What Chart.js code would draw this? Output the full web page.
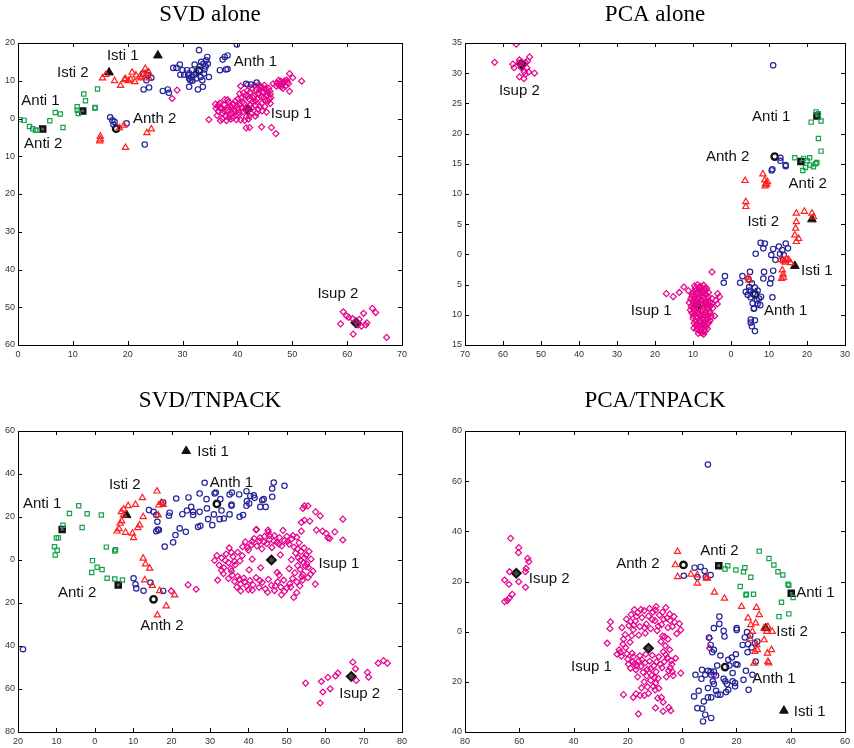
<!DOCTYPE html>
<html>
<head>
<meta charset="utf-8">
<script src="https://cdn.jsdelivr.net/npm/chart.js@4/dist/chart.umd.min.js"></script>
<style>
  body { margin: 0; background: #fff; }
  canvas { position: absolute; }
</style>
</head>
<body>
<canvas id="c1" width="427" height="374" style="left:0;top:0"></canvas>
<canvas id="c2" width="427" height="374" style="left:427px;top:0"></canvas>
<canvas id="c3" width="427" height="374" style="left:0;top:374px"></canvas>
<canvas id="c4" width="427" height="374" style="left:427px;top:374px"></canvas>
<script>
// ---- SVD alone ----
const svdAnti = [[0.4,-0.3],[1.1,-0.5],[2.1,-2.1],[2.7,-2.7],[3.2,-3.1],[3.5,-3.1],[5.8,-0.6],[6.8,1.6],[7.7,1.2],[8.2,-2.4],[10.8,3.1],[10.8,2.2],[11.0,1.3],[12.0,6.5],[12.3,4.7],[14.0,2.8],[14.1,2.9],[14.5,7.8]];
const svdIsti = [[15.4,10.7],[16.0,11.6],[17.6,10.0],[18.7,8.7],[19.4,10.3],[19.6,10.5],[20.1,10.0],[20.5,10.4],[20.8,12.2],[21.3,9.7],[21.5,11.5],[22.2,11.0],[22.5,10.7],[22.8,11.6],[23.2,13.2],[23.4,11.9],[23.8,12.3],[23.9,10.7],[15.0,-4.7],[15.0,-5.5],[14.9,-6.0],[18.5,-2.5],[19.3,-1.8],[19.6,-7.7],[23.5,-3.8],[24.3,-2.8]];
const svdAnth = [[22.8,11.9],[23.4,10.1],[23.7,11.5],[24.3,10.8],[22.9,7.7],[23.9,8.2],[26.4,7.3],[27.3,7.7],[27.5,6.8],[28.3,13.4],[28.9,13.4],[29.5,14.3],[29.6,11.6],[30.0,12.8],[30.3,11.6],[30.8,12.8],[31.2,10.6],[31.4,10.1],[31.6,11.0],[31.8,10.0],[32.1,11.5],[32.2,14.3],[32.5,12.1],[33.0,18.1],[33.3,11.0],[33.4,15.0],[33.6,10.1],[33.7,8.4],[33.9,11.9],[34.0,13.0],[34.2,13.8],[34.3,15.4],[34.5,16.3],[34.6,14.5],[34.8,11.0],[32.8,7.7],[31.2,8.4],[36.8,12.8],[37.3,15.6],[37.7,16.3],[38.2,16.7],[37.9,13.0],[38.2,13.1],[39.9,19.6],[41.6,9.2],[42.5,9.0],[43.5,9.5],[31.7,12.8],[31.2,12.0],[33.2,13.8],[33.8,14.5],[31.0,11.5],[32.5,10.6],[16.8,0.3],[17.2,-0.5],[17.6,-0.9],[17.4,-1.6],[19.8,-1.3],[23.1,-6.9]];
const svdIsup = [[36.0,3.8],[36.4,3.2],[36.8,4.1],[37.0,2.5],[37.3,1.4],[37.6,3.6],[37.9,0.6],[38.1,2.2],[38.4,4.4],[38.6,1.0],[38.9,2.9],[39.1,0.2],[39.3,3.8],[39.5,1.7],[39.8,-0.3],[40.0,2.6],[36.5,1.9],[37.2,-0.1],[38.0,-0.6],[38.7,3.4],[39.6,4.6],[40.2,0.9],[40.5,3.6],[36.1,2.7],[37.7,5.0],
  [40.7,5.4],[41.0,1.8],[41.2,4.0],[41.5,6.2],[41.6,0.5],[41.9,3.0],[42.1,5.1],[42.3,7.0],[42.5,1.4],[42.8,4.4],[43.0,6.0],[40.4,6.6],[41.3,-0.5],[42.6,2.7],[43.2,3.5],[40.8,2.9],[41.8,7.4],[42.0,-0.2],
  [43.4,7.6],[43.6,5.2],[43.8,2.4],[44.0,6.6],[44.2,8.4],[44.4,4.0],[44.6,7.0],[44.8,5.6],[45.0,3.2],[45.2,7.9],[45.4,6.1],[45.6,4.6],[45.9,7.2],[46.1,5.5],[43.9,9.0],[44.9,8.8],[45.7,8.0],[43.1,8.8],[44.5,2.0],[45.3,1.7],[46.0,4.0],
  [36.3,0.8],[36.9,-0.6],[37.5,2.0],[38.2,3.0],[38.8,-0.2],[39.4,2.4],[39.9,3.4],[40.3,1.6],[40.9,4.4],[41.4,2.4],[41.9,5.8],[42.4,3.6],[42.9,5.4],[43.3,4.6],[43.7,6.6],[44.1,3.2],[44.3,5.8],[44.7,8.0],[45.1,4.8],[45.5,7.0],[45.8,5.2],[40.1,5.2],[39.0,1.4],[37.0,3.0],[38.4,0.2],[41.1,6.8],[42.7,7.8],[44.0,7.6],[46.0,6.4],[43.5,1.4],[39.7,0.8],[40.6,-0.4],[36.6,3.6],[38.2,5.0],[42.2,0.6],
  [47.2,9.4],[47.6,8.8],[47.9,9.9],[48.2,9.0],[48.5,9.6],[48.8,8.6],[49.0,10.2],[49.3,9.2],[47.5,10.1],[48.0,8.4],[47.8,9.2],[48.6,10.0],[48.3,8.0],[47.1,8.6],[49.1,9.7],
  [49.5,11.9],[50.1,10.8],[51.7,9.9],[49.5,7.2],[46.5,9.2],[34.8,-0.3],[41.6,-2.5],[42.2,-2.4],[44.4,-2.2],[46.2,-2.4],[47.0,-4.0],[43.3,0.6],[28.1,5.3],[29.0,7.5],[40.6,8.6],[41.8,8.9],
  [59.3,-51.2],[59.9,-52.3],[58.8,-54.4],[60.3,-52.7],[61.0,-53.0],[61.1,-57.1],[62.0,-54.7],[62.2,-53.2],[63.0,-51.6],[63.4,-54.7],[63.6,-54.1],[64.6,-50.3],[65.2,-51.4],[67.2,-58.0],[62.6,-55.0]];
const svdAntiC = [[11.8,2.0],[4.5,-2.8]];
const svdIstiC = [[16.6,12.2],[25.5,16.7]];
const svdAnthC = [[33.0,12.7],[17.9,-2.7]];
const svdIsupC = [[41.8,2.4],[61.6,-54.1]];
const svdLabels = [['Isti 1',19.1,16.7],['Isti 2',10.0,12.2],['Anti 1',4.1,4.7],['Anti 2',4.6,-6.8],['Anth 2',24.9,-0.2],['Anth 1',43.3,15.0],['Isup 1',49.8,1.3],['Isup 2',58.3,-46.5]];

// ---- PCA alone ----
const pcaAnti = [[22.4,23.6],[23.0,23.3],[21.1,21.9],[23.7,22.1],[23.0,19.2],[23.7,17.1],[16.8,16.0],[19.1,15.9],[20.7,16.0],[20.0,15.5],[20.8,14.8],[21.7,14.5],[22.6,15.2],[22.3,15.0],[18.9,13.9],[19.6,14.4]];
const pcaIsti = [[3.7,12.2],[3.9,8.7],[3.9,7.9],[8.4,13.3],[8.9,12.3],[9.1,11.7],[9.4,11.6],[9.0,11.3],[9.6,12.0],[17.2,6.8],[19.3,7.1],[21.3,6.8],[21.7,6.2],[17.2,5.4],[17.0,4.3],[16.8,3.2],[17.8,2.6],[17.2,2.1],[13.0,-0.9],[13.9,-1.1],[14.6,-0.7],[15.2,-0.9],[15.7,-1.4],[14.3,-1.3],[13.5,-2.6],[13.7,-3.3],[13.3,-4.0],[13.8,-3.8],[4.5,-3.8],[4.8,-4.3]];
const pcaAnth = [[11.1,31.3],[10.9,14.1],[10.7,13.9],[13.0,16.0],[13.0,15.5],[14.4,14.8],[14.4,14.6],[7.8,1.9],[8.9,1.8],[8.5,1.0],[6.5,0.1],[11.1,0.9],[12.6,1.3],[13.5,0.7],[14.4,1.8],[15.0,1.0],[13.9,-0.1],[12.9,0.1],[10.6,-0.1],[11.7,-0.9],[13.7,-0.9],[-1.6,-3.6],[-1.9,-4.7],[3.0,-3.6],[2.4,-4.7],[5.0,-2.9],[4.6,-4.1],[5.5,-4.8],[6.3,-5.5],[7.0,-6.0],[8.5,-4.0],[8.7,-2.9],[10.6,-4.0],[10.3,-4.8],[11.1,-2.7],[10.9,-7.1],[4.4,-6.7],[5.2,-7.1],[5.7,-8.1],[7.0,-8.2],[7.7,-8.4],[6.1,-8.9],[6.3,-10.9],[5.2,-10.8],[5.2,-11.3],[5.5,-11.9],[6.3,-12.7],[3.9,-6.2],[4.8,-5.4],[7.4,-7.3],[5.8,-6.4],[6.8,-7.6],[4.9,-6.0],[7.9,-7.0],[6.0,-9.0]];
const pcaIsup = [[-9.6,-5.2],[-8.8,-5.0],[-8.0,-5.3],[-7.2,-5.1],[-6.4,-5.6],[-9.2,-6.0],[-8.4,-5.9],[-7.6,-6.2],[-6.8,-6.0],[-5.9,-6.3],[-10.2,-6.6],[-9.7,-6.9],
  [-10.6,-7.4],[-10.0,-7.8],[-9.5,-7.3],[-9.0,-7.7],[-8.4,-7.1],[-7.9,-7.6],[-7.3,-7.2],[-6.7,-7.8],[-6.1,-7.4],[-5.5,-7.9],[-5.0,-7.3],[-10.5,-8.6],[-9.8,-9.0],[-9.3,-8.4],[-8.3,-8.9],[-7.7,-8.3],[-7.1,-8.8],[-6.5,-8.4],[-5.9,-9.0],[-5.3,-8.5],[-4.8,-8.9],[-10.3,-9.7],[-9.6,-9.9],[-9.0,-9.4],[-8.5,-10.0],[-7.9,-9.5],[-7.3,-9.9],[-6.7,-9.6],[-6.1,-10.1],[-5.5,-9.7],
  [-10.0,-10.6],[-9.4,-11.0],[-8.8,-10.5],[-8.2,-11.1],[-7.6,-10.7],[-7.0,-11.2],[-6.4,-10.8],[-5.8,-11.3],[-9.2,-11.8],[-8.6,-12.1],[-8.0,-11.7],[-7.4,-12.2],[-6.8,-11.9],[-6.2,-12.3],[-8.3,-12.7],[-7.6,-13.0],[-6.9,-12.8],[-9.8,-12.2],
  [-9.9,-6.2],[-9.0,-6.4],[-8.2,-6.6],[-7.4,-6.8],[-6.6,-6.6],[-6.0,-7.0],[-10.3,-7.0],[-8.7,-7.5],[-7.0,-7.4],[-5.7,-8.4],[-10.0,-8.3],[-9.1,-8.1],[-8.0,-8.2],[-6.9,-8.1],[-6.2,-8.8],[-5.0,-8.1],[-10.7,-9.2],[-9.4,-9.3],[-8.7,-9.6],[-7.5,-9.2],[-6.9,-10.0],[-5.8,-9.4],[-5.2,-10.3],[-9.9,-10.2],[-9.1,-10.3],[-8.0,-10.3],[-7.1,-10.4],[-6.0,-10.6],[-9.7,-11.4],[-8.9,-11.4],[-7.9,-11.2],[-7.2,-11.6],[-6.4,-11.5],[-5.5,-10.9],[-9.0,-12.4],[-8.0,-12.4],[-7.1,-12.5],[-6.5,-12.0],[-7.9,-12.9],[-8.6,-13.1],[-7.2,-13.2],[-9.4,-5.6],[-8.4,-5.4],[-7.8,-5.7],[-6.9,-5.6],
  [-17.0,-6.5],[-15.2,-7.0],[-13.6,-6.3],[-12.4,-5.4],[-11.2,-6.0],[-5.0,-2.9],[-3.5,-6.5],[-3.0,-7.0],[-4.0,-7.6],[-3.6,-8.2],[-11.0,-8.0],[-4.3,-10.2],
  [-62.2,31.8],[-56.5,34.8],[-57.4,31.5],[-57.1,30.9],[-55.8,31.7],[-55.7,32.2],[-55.2,30.9],[-54.1,31.8],[-53.5,32.0],[-53.0,32.7],[-53.7,30.9],[-53.2,30.2],[-54.1,29.8],[-55.7,29.4],[-54.5,29.1],[-51.7,30.0],[-54.4,30.2]];
const pcaAntiC = [[22.6,22.9],[18.4,15.4]];
const pcaIstiC = [[21.3,5.8],[16.8,-1.9]];
const pcaAnthC = [[6.3,-6.6],[11.5,16.2]];
const pcaIsupC = [[-9.0,-8.5],[-55.1,31.5]];
const pcaLabels = [['Isup 2',-55.7,27.1],['Anti 1',10.6,22.7],['Anth 2',-0.9,16.2],['Anti 2',20.2,11.7],['Isti 2',8.5,5.4],['Isti 1',22.6,-2.7],['Isup 1',-21.0,-9.3],['Anth 1',14.4,-9.3]];

// ---- SVD/TNPACK ----
const svdTnAnti = [[-10.5,6.2],[-9.8,4.5],[-10.3,2.3],[-10.0,10.3],[-9.5,10.3],[-8.3,16.2],[-6.6,21.6],[-4.2,25.2],[-3.3,15.1],[-2.0,21.5],[1.7,20.9],[-0.6,-0.3],[-0.8,-5.8],[0.6,-3.4],[1.9,-4.4],[3.2,-8.5],[5.2,4.2],[5.4,4.8],[5.2,-8.8],[7.2,-9.3],[3.0,6.0]];
const svdTnIsti = [[5.8,13.4],[6.3,14.5],[7.0,18.1],[7.5,20.9],[6.9,22.4],[7.5,23.6],[8.7,25.2],[10.6,25.8],[12.4,28.9],[12.6,20.1],[11.7,16.2],[11.2,15.0],[9.8,12.4],[10.1,10.3],[8.0,12.8],[16.2,32.0],[16.7,25.5],[17.3,26.7],[17.8,25.8],[16.5,20.9],[12.6,0.8],[13.2,-1.9],[14.3,-3.9],[13.0,-9.3],[15.0,-11.9],[16.9,-14.3],[20.8,-16.3],[18.6,-21.4],[16.3,-25.6],[6.6,17.0]];
const svdTnAnth = [[14.1,23.2],[15.3,22.4],[16.0,20.9],[16.3,17.8],[16.7,13.9],[16.0,13.4],[16.4,14.2],[18.2,6.2],[20.4,8.2],[21.0,11.6],[19.3,20.6],[22.1,14.7],[22.8,21.3],[21.2,28.6],[24.4,29.1],[25.1,24.7],[25.6,20.9],[25.6,22.4],[23.7,13.1],[27.3,22.4],[26.9,15.4],[27.5,15.9],[28.6,35.9],[27.3,30.9],[29.1,28.3],[29.2,24.0],[29.5,19.0],[30.6,16.2],[31.0,21.2],[31.2,30.9],[31.5,31.4],[32.7,28.3],[32.5,19.0],[33.6,19.3],[35.1,21.2],[35.6,25.8],[35.6,25.2],[35.1,30.5],[35.7,31.4],[37.6,30.5],[37.7,20.1],[38.6,20.9],[39.5,32.0],[39.5,25.2],[39.6,27.4],[40.2,26.3],[40.5,29.8],[41.4,30.1],[41.6,28.9],[43.1,24.7],[43.6,27.8],[44.0,28.3],[44.5,24.7],[46.2,29.4],[46.2,33.2],[46.6,36.0],[49.4,34.5],[17.8,26.7],[19.5,22.0],[24.0,23.0],[33.0,23.0],
  [10.1,-8.5],[10.6,-11.3],[10.8,-13.2],[12.7,-14.3],[14.5,-10.5],[17.8,-14.4],[-18.7,-41.5]];
const svdTnIsup = [[38.5,6.2],[39.2,8.4],[40.0,4.6],[40.8,7.0],[41.5,10.0],[42.2,6.5],[42.9,8.8],[43.5,5.2],[44.2,11.0],[44.8,7.6],[45.5,9.6],[46.1,5.8],[46.8,11.4],[47.4,8.2],[48.1,10.4],[48.7,6.6],[49.4,9.0],[50.0,11.0],[50.6,7.4],[51.3,9.8],[51.9,6.0],[52.6,10.6],[53.2,8.0],[53.8,13.4],[54.5,5.6],[42.0,14.0],[45.2,13.0],[49.0,13.8],
  [52.3,3.2],[53.0,1.0],[53.7,3.9],[54.3,-1.2],[55.0,2.2],[55.6,-3.4],[56.3,0.4],[56.8,-5.2],[52.8,-2.6],[53.5,-4.4],[54.2,-6.8],[54.9,-3.0],[55.5,-8.2],[52.1,-6.0],[51.5,-8.6],[52.6,-10.2],[53.4,-12.0],[54.1,-9.4],[50.6,-4.0],[51.2,0.2],
  [33.5,-6.4],[34.8,-8.6],[35.6,-5.2],[36.4,-10.0],[37.2,-7.6],[38.0,-11.2],[38.8,-8.4],[39.6,-12.2],[40.4,-9.6],[41.2,-11.6],[42.0,-8.2],[42.8,-12.8],[43.6,-10.4],[44.4,-13.4],[45.2,-9.0],[46.0,-11.8],[46.8,-14.2],[47.6,-10.2],[48.4,-12.6],[49.2,-9.4],[50.0,-13.0],[50.8,-11.0],[37.0,-12.6],[41.0,-14.0],[51.8,-17.4],[52.6,-15.2],
  [31.2,-0.2],[31.8,2.0],[32.4,-2.4],[33.0,1.0],[33.6,-3.6],[34.2,2.8],[34.8,-1.2],[35.4,-4.0],[36.0,1.6],[36.6,-2.2],[37.2,3.6],[37.8,-0.4],[32.0,-9.4],[35.0,5.6],[38.4,2.0],
  [41.0,0.4],[43.2,-3.6],[47.5,-5.8],[48.3,2.4],[40.2,-4.6],
  [39.8,5.8],[41.0,8.6],[43.0,10.4],[44.0,8.4],[46.6,8.8],[48.0,7.4],[50.2,8.6],[51.6,11.4],[52.8,5.2],[53.6,0.0],[55.2,-1.8],[53.9,-7.8],[51.0,-12.6],[49.4,-14.6],[47.0,-12.0],[45.0,-15.0],[43.0,-9.6],[39.0,-10.2],[37.6,-9.0],[35.8,-7.0],[34.0,-0.2],[33.0,-4.8],[35.6,3.4],[36.4,-0.6],[55.8,4.0],[56.2,-6.6],[40.0,-13.8],[38.0,-14.4],[48.6,-16.2],[54.6,1.0],
  [54.2,24.0],[54.6,25.2],[55.5,25.2],[53.8,17.5],[54.6,18.5],[56.0,18.1],[57.5,22.4],[58.7,20.5],[57.7,13.9],[59.3,13.4],[60.3,12.3],[60.7,10.3],[62.5,13.1],[61.2,10.0],[64.6,19.0],[64.6,9.3],[42.1,14.2],[45.1,13.9],[45.5,11.3],[24.3,-11.6],[26.4,-13.6],[19.9,-14.4],[57.4,-11.2],[48.0,-7.0],
  [54.9,-57.3],[59.0,-56.5],[59.4,-61.4],[58.7,-66.5],[61.3,-59.9],[60.7,-54.6],[62.7,-53.9],[63.3,-52.6],[67.2,-47.5],[67.9,-50.6],[68.1,-56.0],[71.0,-52.3],[71.3,-54.5],[73.8,-48.0],[75.2,-46.8],[76.2,-48.0]];
const svdTnAntiC = [[-8.5,14.2],[6.1,-11.6]];
const svdTnIstiC = [[8.3,20.9],[23.8,50.7]];
const svdTnAnthC = [[31.8,26.1],[15.3,-18.3]];
const svdTnIsupC = [[46.0,0.0],[66.8,-54.2]];
const svdTnLabels = [['Isti 1',30.8,50.3],['Isti 2',7.8,34.8],['Anti 1',-13.7,26.0],['Anth 1',35.6,36.0],['Isup 1',63.6,-1.6],['Anti 2',-4.6,-15.2],['Anth 2',17.5,-30.5],['Isup 2',69.0,-62.4]];

// ---- PCA/TNPACK ----
const pcaTnAnti = [[16.8,26.3],[15.8,25.0],[19.8,24.6],[22.6,23.9],[23.1,25.5],[25.3,21.7],[21.4,18.0],[23.5,14.6],[23.7,14.9],[26.3,14.9],[28.4,32.1],[32.0,29.2],[33.8,26.6],[35.3,23.9],[37.1,22.6],[39.0,18.9],[39.3,18.5],[36.6,11.7],[35.7,6.0],[39.3,7.1],[40.9,13.6]];
const pcaTnIsti = [[-1.7,31.9],[-2.5,26.6],[-1.7,21.9],[3.2,22.9],[5.6,22.6],[5.6,19.3],[8.9,21.3],[9.3,21.4],[11.9,15.7],[15.6,13.3],[21.9,10.0],[27.4,9.6],[28.4,6.7],[24.3,5.4],[25.3,2.7],[27.1,3.4],[25.9,0.0],[25.1,-2.9],[30.2,1.4],[31.2,0.0],[31.6,2.0],[33.2,0.0],[30.2,-3.3],[27.5,-5.3],[26.8,-7.9],[27.7,-7.2],[31.4,-8.6],[32.9,-7.2],[31.6,-11.9],[31.9,-12.5],[26.5,-12.6]];
const pcaTnAnth = [[9.5,66.6],[0.6,22.3],[4.6,25.5],[6.8,25.8],[8.3,24.2],[10.5,22.6],[5.6,21.7],[8.7,21.8],
  [13.7,6.0],[13.7,3.1],[15.3,0.3],[11.7,1.4],[9.9,-2.3],[10.5,-5.3],[11.7,-7.2],[11.1,-8.2],[14.1,-9.5],[15.6,-1.9],[20.1,1.4],[20.1,0.7],[22.3,-5.3],[23.1,-2.3],[23.9,-0.2],[25.1,-1.5],[24.3,-5.0],[24.1,-8.2],[26.8,-4.6],[27.7,-3.9],[25.6,-6.3],[19.8,-9.0],[18.3,-10.3],[17.0,-11.2],[17.4,-13.5],[19.8,-13.0],[15.3,-18.8],[15.9,-19.8],[16.5,-20.9],[18.6,-19.8],[19.5,-20.5],[19.5,-21.8],[17.0,-23.2],[16.2,-24.1],[14.1,-25.1],[12.5,-23.6],[11.7,-20.9],[10.7,-26.2],[9.5,-26.2],[8.0,-27.8],[7.4,-30.7],[7.7,-35.8],[8.5,-33.1],[10.7,-34.4],[11.3,-19.8],[9.5,-15.6],[4.9,-17.2],[7.1,-18.8],[7.3,-15.2],[8.5,-17.2],[10.5,-15.9],[11.7,-15.9],[12.9,-13.5],[9.5,-22.5],[6.1,-23.6],[4.4,-25.8],[5.6,-30.5],[23.5,-15.6],[22.6,-19.2],[24.5,-23.2],[25.9,-17.2],[27.1,-11.9],[13.1,-25.1],[10.7,-17.2],[12.5,-17.5],[20.4,-13.2],[18.6,-16.5]];
const pcaTnIsup = [[-20.5,5.0],[-19.6,2.4],[-18.8,6.8],[-18.0,0.8],[-17.2,4.2],[-16.4,7.6],[-15.6,2.0],[-14.8,5.6],[-14.0,8.4],[-13.2,3.0],[-12.4,6.2],[-11.6,1.2],[-10.8,7.8],[-10.0,4.4],[-9.2,0.4],[-8.4,6.6],[-7.6,2.8],[-6.8,5.0],[-6.0,9.6],[-5.2,1.6],[-4.4,4.4],[-3.6,2.0],[-2.8,3.8],[-2.0,-0.8],[-16.0,-1.4],[-13.6,-0.6],[-7.2,-1.8],[-5.2,-3.0],[-17.6,8.8],[-12.0,9.2],[-4.6,7.0],[-1.0,3.2],[-0.5,0.7],[-9.6,10.0],
  [-23.2,-7.2],[-22.4,-9.8],[-21.6,-3.0],[-20.8,-6.4],[-20.0,-11.0],[-19.2,-4.2],[-18.4,-8.6],[-17.6,-12.8],[-21.0,-1.2],[-22.8,-8.2],[-19.0,-14.6],[-24.0,-9.0],[-27.6,-4.6],[-26.6,1.2],[-26.4,3.9],
  [-7.8,-4.0],[-7.0,-8.0],[-6.2,-5.6],[-5.4,-10.4],[-4.6,-7.2],[-3.8,-13.0],[-6.6,-12.0],[-5.0,-15.6],[-3.6,-16.0],[-2.4,-10.6],[-7.4,-14.4],[-4.4,-14.4],[-8.6,-10.0],
  [-18.2,-12.0],[-17.0,-15.2],[-16.0,-11.6],[-15.2,-13.8],[-14.4,-16.2],[-13.6,-12.4],[-12.8,-15.0],[-12.0,-11.8],[-11.2,-17.4],[-10.4,-13.6],[-9.6,-16.0],[-8.8,-18.6],[-16.4,-18.0],[-14.0,-20.0],[-11.6,-19.4],[-9.8,-20.6],[-15.6,-9.6],[-13.4,-9.0],[-11.0,-9.4],[-9.4,-12.0],
  [-19.0,4.0],[-17.8,2.6],[-16.8,6.0],[-15.2,8.8],[-13.8,1.6],[-11.0,4.8],[-9.8,8.6],[-8.8,2.2],[-7.2,7.8],[-5.6,5.4],[-3.0,6.0],[-21.8,-5.0],[-20.4,-8.8],[-19.8,-13.0],[-18.0,-10.0],[-16.8,-13.6],[-14.8,-11.2],[-13.0,-17.6],[-11.6,-14.8],[-10.2,-18.2],[-8.0,-13.0],[-6.0,-9.2],[-5.8,-18.0],[-4.0,-11.6],[-6.4,-2.0],[-18.6,-1.6],[-22.2,1.6],[-10.6,-21.8],[-15.0,-22.4],[-12.4,-24.6],
  [-21.6,-25.1],[-18.0,-26.2],[-17.0,-24.8],[-15.5,-25.4],[-13.9,-25.4],[-16.1,-32.8],[-9.8,-30.4],[-10.0,-23.2],[-9.0,-26.5],[-7.6,-26.2],[-7.0,-28.1],[-4.9,-30.2],[-4.2,-31.5],[-7.0,-31.8],[-3.3,-17.5],[-0.5,-16.5],[-12.8,-22.0],[-8.6,-22.6],[10.1,-2.6],[10.1,-6.6],[11.7,-17.2],
  [-63.2,37.2],[-60.2,33.5],[-60.3,31.5],[-56.9,29.2],[-56.5,27.9],[-57.5,25.2],[-57.7,23.9],[-63.6,23.9],[-65.4,20.6],[-63.8,18.9],[-60.2,19.9],[-57.7,17.7],[-62.6,14.9],[-63.8,13.3],[-65.4,12.0],[-64.4,12.4]];
const pcaTnAntiC = [[40.2,15.3],[13.5,26.3]];
const pcaTnIstiC = [[37.5,-31.5],[30.8,1.4]];
const pcaTnAnthC = [[15.8,-14.1],[0.5,26.6]];
const pcaTnIsupC = [[-12.4,-6.6],[-61.1,23.3]];
const pcaTnLabels = [['Isup 2',-49.0,20.9],['Anth 2',-16.3,27.2],['Anti 2',13.7,32.1],['Anti 1',49.1,15.3],['Isti 2',40.5,-0.2],['Isup 1',-33.4,-14.1],['Anth 1',33.8,-18.8],['Isti 1',47.0,-32.0]];

const GREEN = '#17a14a', RED = '#ff1f1f', BLUE = '#25259a', MAGENTA = '#e8008c';

// box around the axes, inward ticks on all sides, and cluster names
const framePlugin = {
  id: 'frame',
  afterDatasetsDraw(chart, args, opts) {
    const { ctx, chartArea: a, scales: { x, y } } = chart;
    ctx.save();
    ctx.strokeStyle = '#000';
    ctx.lineWidth = 1;
    ctx.strokeRect(Math.round(a.left) + 0.5, Math.round(a.top) + 0.5, Math.round(a.width), Math.round(a.height));
    ctx.beginPath();
    x.ticks.forEach(t => {
      const px = Math.round(x.getPixelForValue(t.value)) + 0.5;
      ctx.moveTo(px, a.top); ctx.lineTo(px, a.top + 4);
      ctx.moveTo(px, a.bottom); ctx.lineTo(px, a.bottom - 4);
    });
    y.ticks.forEach(t => {
      const py = Math.round(y.getPixelForValue(t.value)) + 0.5;
      ctx.moveTo(a.left, py); ctx.lineTo(a.left + 4, py);
      ctx.moveTo(a.right, py); ctx.lineTo(a.right - 4, py);
    });
    ctx.stroke();
    ctx.font = '15px "Liberation Sans", Arial, sans-serif';
    ctx.fillStyle = '#111';
    ctx.textAlign = 'center';
    ctx.textBaseline = 'middle';
    (opts.labels || []).forEach(([txt, vx, vy]) => {
      ctx.fillText(txt, x.getPixelForValue(vx), y.getPixelForValue(vy));
    });
    ctx.restore();
  }
};

function markers(data, color, style, r) {
  return { data: data, pointStyle: style, pointRadius: r, pointHoverRadius: r,
           borderColor: color, backgroundColor: 'rgba(0,0,0,0)', borderWidth: 1.2 };
}
function centres(data, style, r, fill, bw) {
  return { data: data, pointStyle: style, pointRadius: r, pointHoverRadius: r,
           borderColor: '#111', backgroundColor: fill, borderWidth: bw };
}

function makePanel(id, title, sets, labels, ax) {
  const tickFont = { family: '"Liberation Sans", Arial, sans-serif', size: 9 };
  new Chart(document.getElementById(id), {
    type: 'scatter',
    data: {
      datasets: [
        markers(sets[0], GREEN, 'rect', 3),
        markers(sets[1], RED, 'triangle', 3.6),
        markers(sets[2], BLUE, 'circle', 2.7),
        markers(sets[3], MAGENTA, 'rectRot', 3),
        centres(sets[4], 'rect', 3.6, '#666', 2.4),
        centres(sets[5], 'triangle', 5, '#111', 1),
        centres(sets[6], 'circle', 3.2, '#fff', 2.4),
        centres(sets[7], 'rectRot', 4.4, '#444', 2)
      ]
    },
    options: {
      responsive: false,
      animation: false,
      events: [],
      layout: { padding: { right: ax.padRight, top: 0, bottom: 0, left: 0 } },
      plugins: {
        legend: { display: false },
        tooltip: { enabled: false },
        title: {
          display: true, text: title, fullSize: false, color: '#000',
          font: { family: '"Liberation Serif", "Times New Roman", serif', size: 23, weight: 'normal', lineHeight: 1.2 },
          padding: { top: ax.titleTop, bottom: ax.titleBottom }
        },
        frame: { labels: labels }
      },
      scales: {
        x: {
          type: 'linear', min: ax.xMin, max: ax.xMax,
          grid: { display: false, drawTicks: false },
          border: { display: false },
          ticks: { stepSize: ax.xStep, font: tickFont, color: '#333', padding: 4, maxRotation: 0,
                   callback: v => Math.abs(v) },
          afterFit: s => { s.height = ax.xHeight; }
        },
        y: {
          type: 'linear', min: ax.yMin, max: ax.yMax,
          grid: { display: false, drawTicks: false },
          border: { display: false },
          ticks: { stepSize: ax.yStep, font: tickFont, color: '#333', padding: 3,
                   callback: v => Math.abs(v) },
          afterFit: s => { s.width = ax.yWidth; }
        }
      }
    },
    plugins: [framePlugin]
  });
}

makePanel('c1', 'SVD alone',
  [svdAnti, svdIsti, svdAnth, svdIsup, svdAntiC, svdIstiC, svdAnthC, svdIsupC], svdLabels,
  { xMin: 0, xMax: 70, xStep: 10, yMin: -60, yMax: 20, yStep: 10,
    yWidth: 18, padRight: 25, xHeight: 29, titleTop: 1, titleBottom: 14.4 });
makePanel('c2', 'PCA alone',
  [pcaAnti, pcaIsti, pcaAnth, pcaIsup, pcaAntiC, pcaIstiC, pcaAnthC, pcaIsupC], pcaLabels,
  { xMin: -70, xMax: 30, xStep: 10, yMin: -15, yMax: 35, yStep: 5,
    yWidth: 38, padRight: 6, xHeight: 29, titleTop: 1, titleBottom: 14.4 });
makePanel('c3', 'SVD/TNPACK',
  [svdTnAnti, svdTnIsti, svdTnAnth, svdTnIsup, svdTnAntiC, svdTnIstiC, svdTnAnthC, svdTnIsupC], svdTnLabels,
  { xMin: -20, xMax: 80, xStep: 10, yMin: -80, yMax: 60, yStep: 20,
    yWidth: 18, padRight: 25, xHeight: 16, titleTop: 13, titleBottom: 16.4 });
makePanel('c4', 'PCA/TNPACK',
  [pcaTnAnti, pcaTnIsti, pcaTnAnth, pcaTnIsup, pcaTnAntiC, pcaTnIstiC, pcaTnAnthC, pcaTnIsupC], pcaTnLabels,
  { xMin: -80, xMax: 60, xStep: 20, yMin: -40, yMax: 80, yStep: 20,
    yWidth: 38, padRight: 6, xHeight: 16, titleTop: 13, titleBottom: 16.4 });
</script>
</body>
</html>
